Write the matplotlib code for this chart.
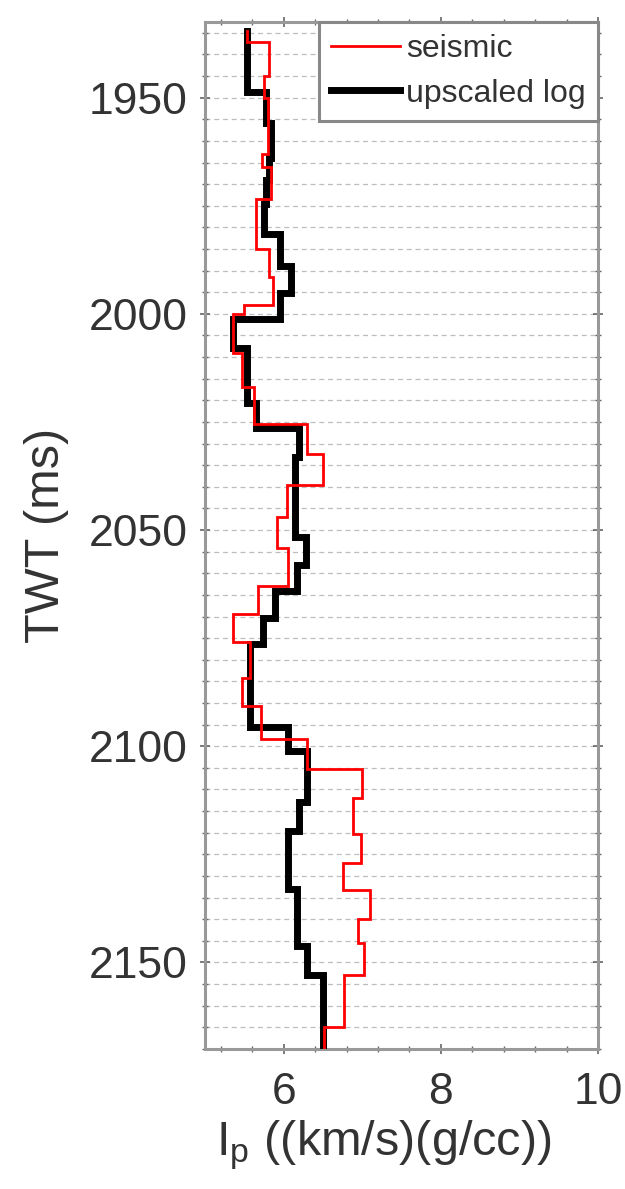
import matplotlib
matplotlib.use('Agg')
import matplotlib.pyplot as plt
import numpy as np
from matplotlib.ticker import MultipleLocator, FixedLocator

plt.rcParams['font.family'] = ['Liberation Sans', 'DejaVu Sans']
plt.rcParams['mathtext.fontset'] = 'custom'
plt.rcParams['mathtext.rm'] = 'Liberation Sans'

# seismic impedance: step tops (ms) and values, last top is the end of the trace
seis_tops = [1934.5, 1937.2, 1945.0, 1950.0, 1963.0, 1966.0, 1973.5, 1985.0,
             1991.5, 1998.0, 2000.0, 2009.0, 2017.0, 2025.5, 2032.5, 2039.6,
             2047.0, 2054.2, 2063.0, 2069.5, 2076.0, 2084.3, 2090.7, 2098.4,
             2105.3, 2112.0, 2120.2, 2127.0, 2133.3, 2140.0, 2145.5, 2153.0,
             2165.0, 2170.0]
seis_vals = [5.54, 5.82, 5.75, 5.80, 5.72, 5.84, 5.65, 5.82,
             5.87, 5.50, 5.35, 5.47, 5.62, 6.30, 6.50, 6.04,
             5.92, 6.06, 5.67, 5.35, 5.57, 5.47, 5.71, 6.30,
             7.00, 6.88, 6.98, 6.75, 7.10, 6.94, 7.02, 6.77,
             6.51]

# upscaled log impedance
log_tops = [1934.5, 1948.8, 1955.8, 1964.0, 1969.0, 1974.5, 1981.5, 1989.0,
            1995.2, 2001.3, 2008.0, 2020.6, 2026.5, 2033.0, 2051.5, 2058.0,
            2064.0, 2070.3, 2076.4, 2095.5, 2101.0, 2113.0, 2119.7, 2133.0,
            2146.3, 2152.8, 2170.0]
log_vals = [5.53, 5.77, 5.84, 5.81, 5.77, 5.75, 5.95, 6.09,
            5.96, 5.35, 5.53, 5.65, 6.19, 6.15, 6.28, 6.17,
            5.89, 5.74, 5.57, 6.05, 6.30, 6.19, 6.05, 6.17,
            6.30, 6.50]

def blocky(tops, vals):
    t = np.repeat(tops, 2)[1:-1]
    v = np.repeat(vals, 2)
    return v, t

fig = plt.figure(figsize=(6.25, 11.89), dpi=100)
ax = fig.add_axes([0.328, 0.1178, 0.629, 0.8637])

txt = '#333333'
lv, lt = blocky(log_tops, log_vals)
sv, st = blocky(seis_tops, seis_vals)
l_log, = ax.plot(lv, lt, color='black', lw=5, solid_joinstyle='miter', label='upscaled log', zorder=3)
l_seis, = ax.plot(sv, st, color='#ff0000', lw=2, solid_joinstyle='miter', label='seismic', zorder=4)

ax.set_xlim(5, 10)
ax.set_ylim(2170, 1932.5)

ax.xaxis.set_major_locator(FixedLocator([6, 8, 10]))
ax.xaxis.set_minor_locator(MultipleLocator(0.4))
ax.yaxis.set_major_locator(MultipleLocator(50))
ax.yaxis.set_minor_locator(MultipleLocator(5))
ax.tick_params(which='both', direction='inout', top=True, right=True,
               color='#666666', labelcolor=txt)
ax.tick_params(which='major', length=7, width=1.2)
ax.tick_params(which='minor', length=4, width=1.0)
ax.tick_params(axis='y', which='major', labelsize=32, pad=9)
ax.tick_params(axis='x', which='major', labelsize=32, pad=13)

ax.yaxis.grid(True, which='both', color='#bdbdbd', linestyle=(0, (4, 3)), lw=0.9)
ax.set_axisbelow(True)

for s in ax.spines.values():
    s.set_color('#999999')
    s.set_linewidth(2.2)

ax.set_ylabel('TWT (ms)', fontsize=35, color=txt, labelpad=14)
ax.set_xlabel(r'$\mathregular{I_p}$ ((km/s)(g/cc))', fontsize=35, color=txt, labelpad=6)
ax.xaxis.set_label_coords(0.455, -0.067)

leg = ax.legend(handles=[l_seis, l_log], loc='upper right', bbox_to_anchor=(1, 1),
                borderaxespad=0, fontsize=23, handlelength=2.15, handletextpad=0.2,
                borderpad=0.38, labelspacing=0.45, fancybox=False, framealpha=1)
leg.get_frame().set_edgecolor('#888888')
leg.get_frame().set_linewidth(2.2)
for t in leg.get_texts():
    t.set_color(txt)

fig.savefig('out.png', dpi=100)
